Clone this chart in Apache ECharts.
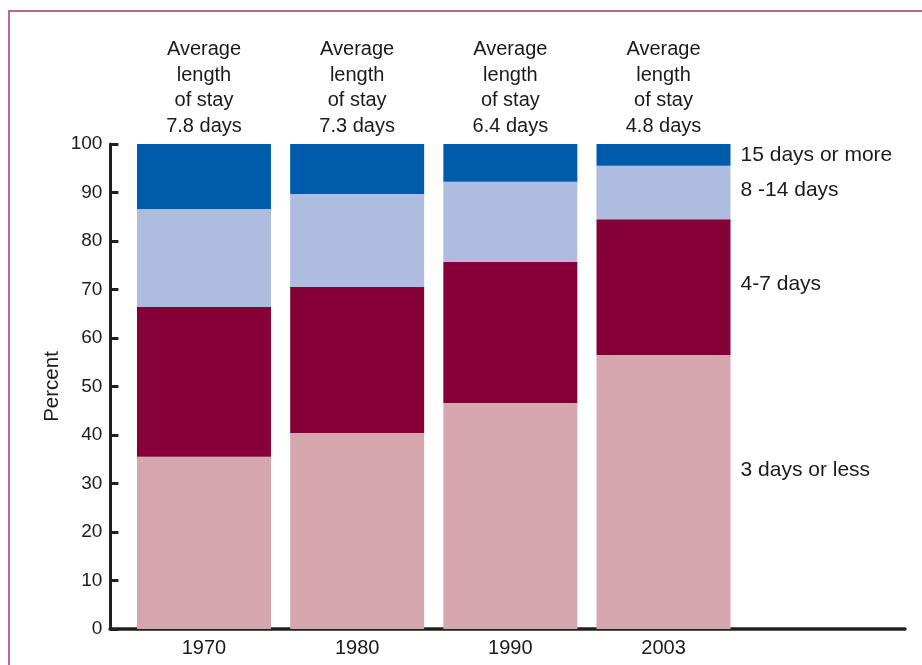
<!DOCTYPE html>
<html>
<head>
<meta charset="utf-8">
<script src="https://cdn.jsdelivr.net/npm/echarts@6/dist/echarts.min.js"></script>
<style>html,body{margin:0;padding:0;background:#fff}#c{width:922px;height:665px}</style>
</head>
<body>
<div id="c"></div>
<script>
const years = ['1970', '1980', '1990', '2003'];
const avgStay = ['7.8', '7.3', '6.4', '4.8'];
const seriesNames = ['3 days or less', '4-7 days', '8 -14 days', '15 days or more'];
const threeOrLess = [35.5, 40.4, 46.6, 56.5];
const fourToSeven = [30.9, 30.1, 29.1, 28.0];
const eightToFourteen = [20.2, 19.2, 16.5, 11.0];
const fifteenPlus = [13.4, 10.3, 7.8, 4.5];
const yTicks = [0, 10, 20, 30, 40, 50, 60, 70, 80, 90, 100];

const colors = ['#d5a6ad', '#850037', '#adbcdf', '#005bab'];
const labelDy = [-22, -3, -2.5, 0];
const FONT = 'Liberation Sans, Arial, Helvetica, sans-serif';
const values = [threeOrLess, fourToSeven, eightToFourteen, fifteenPlus];

const chart = echarts.init(document.getElementById('c'));

const series = values.map((arr, si) => ({
  name: seriesNames[si],
  type: 'bar',
  stack: 'total',
  barWidth: 134,
  xAxisIndex: 0,
  yAxisIndex: 0,
  itemStyle: { color: colors[si] },
  silent: true,
  data: arr.map((v, i) => {
    const item = { value: v };
    if (i === arr.length - 1) {
      item.label = {
        show: true,
        position: 'right',
        distance: 10,
        offset: [0, labelDy[si]],
        formatter: seriesNames[si],
        color: '#1a1a1a',
        fontSize: 21,
        fontFamily: FONT
      };
    }
    return item;
  })
}));

// header labels above each bar
series.push({
  type: 'bar',
  stack: 'total',
  barWidth: 134,
  silent: true,
  itemStyle: { color: 'transparent' },
  data: years.map(() => ({ value: 0 })),
  label: {
    show: true,
    position: 'top',
    distance: 5,
    formatter: (p) => 'Average\nlength\nof stay\n' + avgStay[p.dataIndex] + ' days',
    color: '#1a1a1a',
    fontSize: 20,
    lineHeight: 25.5,
    fontFamily: FONT,
    align: 'center'
  }
});

chart.setOption({
  animation: false,
  backgroundColor: '#fff',
  textStyle: { fontFamily: FONT },
  graphic: [{
    type: 'rect',
    shape: { x: 9, y: 11, width: 1200, height: 1200 },
    style: { fill: 'none', stroke: '#a8376a', lineWidth: 1.5 },
    silent: true
  }],
  grid: [
    { left: 127.4, width: 612.7, top: 144, height: 485 },
    { left: 110, right: 17, top: 144, height: 485 }
  ],
  xAxis: [{
    type: 'category',
    gridIndex: 0,
    data: years,
    axisLine: { show: false },
    axisTick: { show: false },
    axisLabel: { color: '#1a1a1a', fontSize: 20, margin: 9, fontFamily: FONT }
  }, {
    type: 'value',
    gridIndex: 1,
    min: 0, max: 1,
    axisLine: { show: true, lineStyle: { color: '#231f20', width: 3.5 } },
    axisTick: { show: false },
    axisLabel: { show: false },
    splitLine: { show: false }
  }],
  yAxis: [{
    type: 'value',
    gridIndex: 0,
    min: 0, max: 100, interval: 10,
    offset: 17,
    name: 'Percent',
    nameLocation: 'middle',
    nameGap: 48,
    nameMoveOverlap: false,
    nameTextStyle: { color: '#1a1a1a', fontSize: 20.5, fontFamily: FONT },
    axisLine: { show: true, lineStyle: { color: '#231f20', width: 3 } },
    axisTick: { show: true, inside: true, length: 8, lineStyle: { color: '#231f20', width: 3 } },
    axisLabel: {
      color: '#1a1a1a', fontSize: 19, margin: 8, fontFamily: FONT,
      formatter: (v) => yTicks.includes(v) ? String(v) : ''
    },
    splitLine: { show: false }
  }, {
    type: 'value',
    gridIndex: 1,
    show: false
  }],
  series: series
});
</script>
</body>
</html>
